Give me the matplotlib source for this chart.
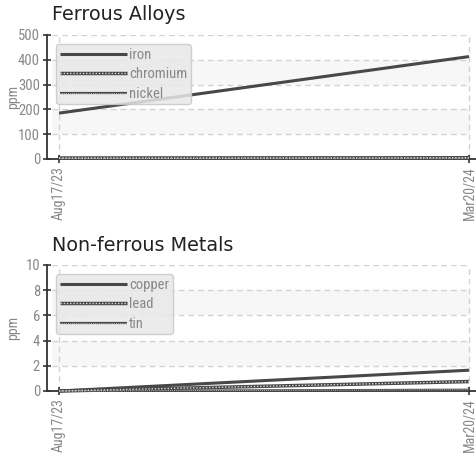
import matplotlib
matplotlib.use("Agg")
import matplotlib.pyplot as plt
import matplotlib.dates as mdates
from matplotlib import font_manager
import datetime as dt

# ---- data ----
dates = [dt.date(2023, 8, 17), dt.date(2024, 3, 20)]
date_labels = ["Aug17/23", "Mar20/24"]

ferrous_title = "Ferrous Alloys"
ferrous_names = ["iron", "chromium", "nickel"]
iron = [185, 413]
chromium = [4, 5]
nickel = [2, 3]
ferrous_yticks = [0, 100, 200, 300, 400, 500]

nonferrous_title = "Non-ferrous Metals"
nonferrous_names = ["copper", "lead", "tin"]
copper = [0.0, 1.65]
lead = [0.0, 0.75]
tin = [0.0, 0.1]
nonferrous_yticks = [0, 2, 4, 6, 8, 10]

ylabel = "ppm"

# ---- fonts ----
avail = {f.name for f in font_manager.fontManager.ttflist}
cond = None
for cand in ["Roboto Condensed", "Liberation Sans Narrow", "Open Sans Condensed"]:
    if cand in avail:
        cond = cand
        break
if cond is None:
    cond = "DejaVu Sans"

W, H = 477, 454
fig = plt.figure(figsize=(W / 100, H / 100), dpi=100)

DARK = "#484848"
GREY_TXT = "#888888"


def px_axes(left, top, right, bottom):
    return fig.add_axes([left / W, 1 - bottom / H, (right - left) / W, (bottom - top) / H])


def make_panel(top, bottom, title, names, series, styles, yticks, ymax, title_base):
    ax = px_axes(47, top, 477, bottom)
    d0 = mdates.date2num(dates[0])
    d1 = mdates.date2num(dates[1])
    x0px, x1px = 59 - 47, 469 - 47
    span = (d1 - d0) / (x1px - x0px)
    ax.set_xlim(d0 - x0px * span, d0 + (430 - x0px) * span)
    ax.set_ylim(0, ymax)
    gx0, gx1 = 5 / 430, 423 / 430
    # bands
    step = yticks[1] - yticks[0]
    for lo in [yticks[1], yticks[3]]:
        ax.axhspan(lo, lo + step, xmin=gx0, xmax=gx1, color="#f7f7f7", lw=0, zorder=0)
    for yt in yticks[1:]:
        ax.axhline(yt, xmin=gx0, xmax=gx1, color="#d2d2d2", lw=1, ls=(0, (4, 3)), zorder=1)
    for d in dates:
        ax.axvline(mdates.date2num(d), color="#d2d2d2", lw=1, ls=(0, (4, 3)), zorder=1)
    handles = []
    for s, st in zip(series, styles):
        lw, overlay = st
        base, = ax.plot(dates, s, color=DARK, lw=lw, solid_capstyle="butt", zorder=3, clip_on=False)
        if overlay is not None:
            ov, = ax.plot(dates, s, color="white", lw=overlay[0], ls=overlay[1], zorder=4, alpha=0.8, clip_on=False)
            handles.append((base, ov))
        else:
            handles.append(base)
    for sp in ["top", "right"]:
        ax.spines[sp].set_visible(False)
    for sp in ["left", "bottom"]:
        ax.spines[sp].set_color("#333333")
        ax.spines[sp].set_linewidth(1.3)
    ax.set_yticks(yticks)
    ax.set_yticklabels([str(v) for v in yticks])
    ax.set_xticks([mdates.date2num(d) for d in dates])
    ax.set_xticklabels(date_labels, rotation=90)
    ax.tick_params(axis="both", direction="inout", length=6, width=1.2, color="#333333",
                   labelcolor=GREY_TXT, labelsize=10.5, pad=2)
    ax.tick_params(axis="x", pad=2, labelsize=10)
    for lab in ax.get_xticklabels() + ax.get_yticklabels():
        lab.set_family(cond)
    ax.set_ylabel(ylabel, color=GREY_TXT, fontsize=10, family=cond)
    ax.yaxis.set_label_coords(-(47 - 20) / 430, 0.5)
    ax.set_facecolor("none")
    fig.text(52 / W, 1 - title_base / H, title, fontsize=13.8, color="#222222",
             family="DejaVu Sans", va="baseline", ha="left")
    leg = ax.legend(handles, names, loc="upper left", bbox_to_anchor=(9 / 430, 1 - 9 / (bottom - top)),
                    handlelength=4.6, handletextpad=0.15, labelspacing=0.38, borderpad=0.25,
                    frameon=True, fancybox=True, prop={"family": cond, "size": 10.5},
                    labelcolor=GREY_TXT, borderaxespad=0)
    fr = leg.get_frame()
    fr.set_facecolor("#e8e8e8")
    fr.set_alpha(0.85)
    fr.set_edgecolor("#c8c8c8")
    leg.set_zorder(5)
    return ax


styles = [(2.2, None), (2.5, (1.0, (0, (1, 1.3)))), (1.6, (0.6, (0, (1, 1.3))))]
make_panel(35, 159, ferrous_title, ferrous_names, [iron, chromium, nickel],
           styles, ferrous_yticks, 500, 20)
make_panel(265, 391, nonferrous_title, nonferrous_names, [copper, lead, tin],
           styles, nonferrous_yticks, 10, 251)

fig.savefig("out.png", dpi=100)
